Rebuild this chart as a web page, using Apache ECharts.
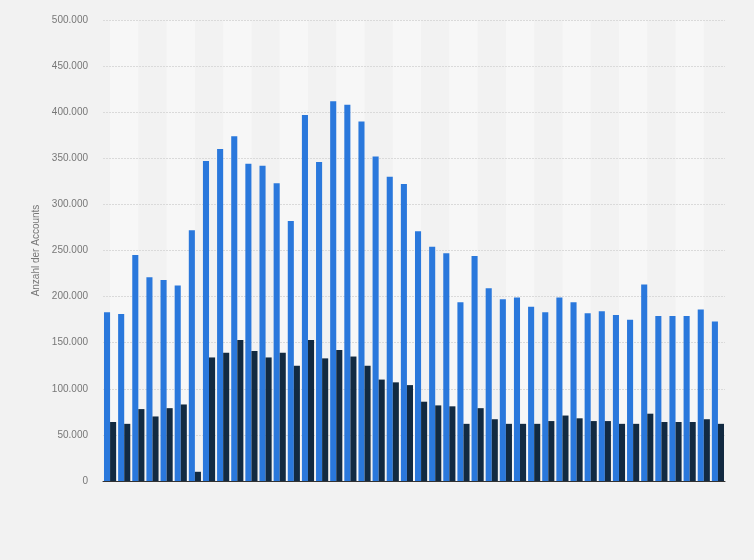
<!DOCTYPE html>
<html>
<head>
<meta charset="utf-8">
<script src="https://cdn.jsdelivr.net/npm/echarts@6/dist/echarts.min.js"></script>
<style>
  html, body { margin: 0; padding: 0; background: #f2f2f2; }
  #chart { width: 754px; height: 560px; }
</style>
</head>
<body>
<div id="chart"></div>
<script>
// Kategorien (keine Beschriftung in der Vorlage sichtbar)
var categories = [];
for (var i = 1; i <= 44; i++) categories.push(String(i));

// blaue Balken
var seriesBlue = [
  183000, 181000, 245000, 221000, 218000, 212000, 272000, 347000, 360000, 374000,
  344000, 342000, 323000, 282000, 397000, 346000, 412000, 408000, 390000, 352000,
  330000, 322000, 271000, 254000, 247000, 194000, 244000, 209000, 197000, 199000,
  189000, 183000, 199000, 194000, 182000, 184000, 180000, 175000, 213000, 179000,
  179000, 179000, 186000, 173000
];

// dunkle Balken
var seriesDark = [
  64000, 62000, 78000, 70000, 79000, 83000, 10000, 134000, 139000, 153000,
  141000, 134000, 139000, 125000, 153000, 133000, 142000, 135000, 125000, 110000,
  107000, 104000, 86000, 82000, 81000, 62000, 79000, 67000, 62000, 62000,
  62000, 65000, 71000, 68000, 65000, 65000, 62000, 62000, 73000, 64000,
  64000, 64000, 67000, 62000
];

var yTicks = [0, 50000, 100000, 150000, 200000, 250000, 300000, 350000, 400000, 450000, 500000];

// helle Hintergrundstreifen: von Mitte Kategorie k bis Mitte Kategorie k+2
var bands = [];
for (var k = 0; k + 2 < categories.length; k += 4) {
  bands.push([{ xAxis: k + 0.5 }, { xAxis: k + 2.5 }]);
}

function fmt(v) {
  return String(v).replace(/\B(?=(\d{3})+(?!\d))/g, ".");
}

var chart = echarts.init(document.getElementById("chart"));
var option = {
  backgroundColor: "#f2f2f2",
  animation: false,
  textStyle: { fontFamily: "Arial, 'Liberation Sans', sans-serif" },
  grid: { left: 103, right: 29, top: 20, bottom: 79 },
  xAxis: [
    {
      type: "category",
      data: categories,
      axisTick: { show: false },
      axisLabel: { show: false },
      axisLine: { lineStyle: { color: "#333", width: 1 } },
      z: 5
    },
    {
      type: "value",
      min: 0,
      max: categories.length,
      show: false
    }
  ],
  yAxis: {
    type: "value",
    min: yTicks[0],
    max: yTicks[yTicks.length - 1],
    interval: 50000,
    name: "Anzahl der Accounts",
    nameLocation: "middle",
    nameGap: 54,
    nameTextStyle: { color: "#777", fontSize: 10 },
    axisLine: { show: false },
    axisTick: { show: false },
    axisLabel: {
      color: "#777",
      fontSize: 10,
      margin: 15,
      formatter: function (v) { return fmt(v); }
    },
    splitLine: { lineStyle: { color: "#dadada", type: [2, 1], width: 1 } },
    z: 2
  },
  series: [
    {
      name: "bands",
      type: "line",
      xAxisIndex: 1,
      data: [],
      silent: true,
      markArea: {
        silent: true,
        itemStyle: { color: "#f7f7f7" },
        data: bands
      },
      z: 0
    },
    {
      name: "A",
      type: "bar",
      data: seriesBlue,
      barGap: "0%",
      barCategoryGap: "14%",
      itemStyle: { color: "#2a78dc" },
      z: 3
    },
    {
      name: "B",
      type: "bar",
      data: seriesDark,
      itemStyle: { color: "#122a41" },
      z: 3
    }
  ]
};
chart.setOption(option);
window.onresize = function () {
  chart.resize();
};
</script>
</body>
</html>
